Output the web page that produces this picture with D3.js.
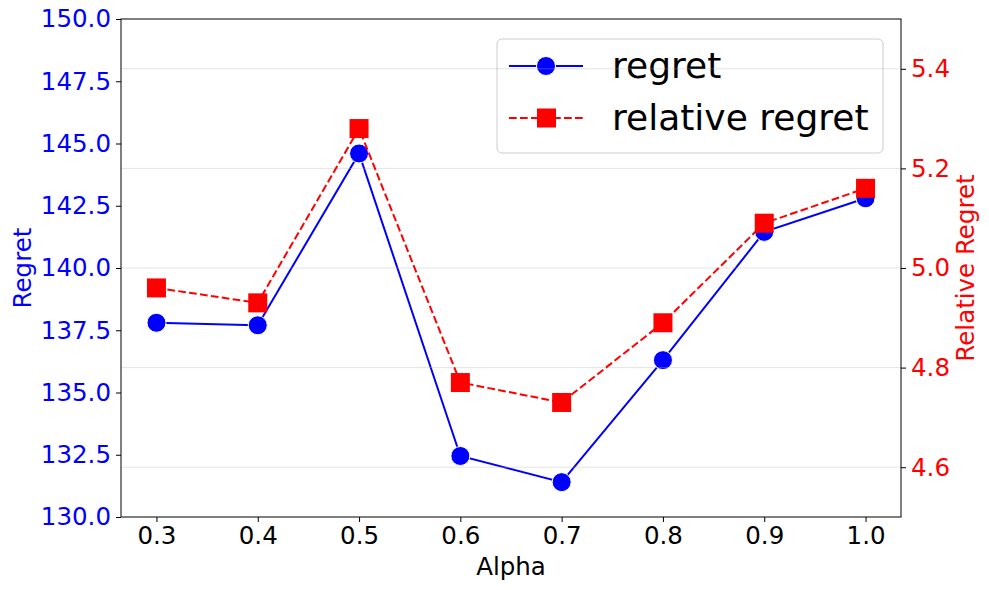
<!DOCTYPE html>
<html>
<head>
<meta charset="utf-8">
<script src="https://cdn.jsdelivr.net/npm/d3@7"></script>
<style>
  body { margin: 0; background: #fff; }
  text { font-family: "DejaVu Sans", sans-serif; }
</style>
</head>
<body>
<svg class="chart"></svg>
<script>
// data
const alphas = [0.3, 0.4, 0.5, 0.6, 0.7, 0.8, 0.9, 1.0];
const regret = [137.8, 137.7, 144.6, 132.45, 131.4, 136.3, 141.45, 142.8];
const relativeRegret = [4.96, 4.93, 5.28, 4.77, 4.73, 4.89, 5.09, 5.16];
const leftTicks = [130, 132.5, 135, 137.5, 140, 142.5, 145, 147.5, 150];
const rightTicks = [4.6, 4.8, 5.0, 5.2, 5.4];

const svgWidth = 989;
const svgHeight = 590;
const margin = { top: 19, right: 88, bottom: 73, left: 121 };
const chartWidth = svgWidth - margin.left - margin.right;
const chartHeight = svgHeight - margin.top - margin.bottom;
const labelSize = '24.5px';

const svg = d3.select('.chart')
  .attr('width', svgWidth)
  .attr('height', svgHeight);

const chart = svg.append('g')
  .attr('transform', 'translate(' + margin.left + ',' + margin.top + ')');

// scales
const xScale = d3.scaleLinear()
  .domain([0.265, 1.035])
  .range([0, chartWidth]);

const yLeft = d3.scaleLinear()
  .domain([130, 150])
  .range([chartHeight, 0]);

const yRight = d3.scaleLinear()
  .domain([4.5, 5.5])
  .range([chartHeight, 0]);

// axes
const xAxis = chart.append('g')
  .attr('transform', 'translate(0,' + chartHeight + ')')
  .call(d3.axisBottom(xScale).tickValues(alphas).tickFormat(d3.format('.1f')).tickSizeOuter(0).tickSize(5).tickPadding(5));

const leftAxis = chart.append('g')
  .call(d3.axisLeft(yLeft).tickValues(leftTicks).tickFormat(d3.format('.1f')).tickSizeOuter(0).tickSize(5).tickPadding(5));

const rightAxis = chart.append('g')
  .attr('transform', 'translate(' + chartWidth + ',0)')
  .call(d3.axisRight(yRight).tickValues(rightTicks).tickFormat(d3.format('.1f')).tickSizeOuter(0).tickSize(5).tickPadding(5));

[xAxis, leftAxis, rightAxis].forEach(a => {
  a.select('.domain').remove();
  a.attr('font-size', null).attr('font-family', null);
  a.selectAll('line').attr('stroke', 'black').attr('stroke-width', 1);
  a.selectAll('text').style('font-size', labelSize).style('font-family', '"DejaVu Sans", sans-serif');
});
xAxis.selectAll('text').attr('fill', 'black');
leftAxis.selectAll('text').attr('fill', 'blue');
rightAxis.selectAll('text').attr('fill', 'red');

// axis labels
chart.append('text')
  .attr('x', chartWidth / 2)
  .attr('y', chartHeight + 58)
  .attr('text-anchor', 'middle')
  .style('font-size', labelSize)
  .attr('fill', 'black')
  .text('Alpha');

chart.append('text')
  .attr('transform', 'rotate(-90)')
  .attr('x', -chartHeight / 2)
  .attr('y', -90)
  .attr('text-anchor', 'middle')
  .style('font-size', labelSize)
  .attr('fill', 'blue')
  .text('Regret');

chart.append('text')
  .attr('transform', 'rotate(-90)')
  .attr('x', -chartHeight / 2)
  .attr('y', chartWidth + 73)
  .attr('text-anchor', 'middle')
  .style('font-size', labelSize)
  .attr('fill', 'red')
  .text('Relative Regret');

// regret line (left axis)
const regretPts = alphas.map((a, i) => [a, regret[i]]);
chart.append('path')
  .datum(regretPts)
  .attr('fill', 'none')
  .attr('stroke', 'blue')
  .attr('stroke-width', 2)
  .attr('d', d3.line().x(d => xScale(d[0])).y(d => yLeft(d[1])));

chart.selectAll('.dot')
  .data(regretPts)
  .enter()
  .append('circle')
  .attr('class', 'dot')
  .attr('cx', d => xScale(d[0]))
  .attr('cy', d => yLeft(d[1]))
  .attr('r', 9.5)
  .attr('fill', 'blue')
  .attr('stroke', 'white')
  .attr('stroke-width', 1);

// legend (belongs to the left axes, so it sits under the right axes' marks)
const legend = chart.append('g')
  .attr('transform', 'translate(' + (497 - margin.left) + ',' + (39 - margin.top) + ')');

legend.append('rect')
  .attr('width', 386)
  .attr('height', 114)
  .attr('rx', 5)
  .attr('fill', 'white')
  .attr('fill-opacity', 0.8)
  .attr('stroke', '#cccccc')
  .attr('stroke-width', 1);

legend.append('line')
  .attr('x1', 12).attr('x2', 86).attr('y1', 27).attr('y2', 27)
  .attr('stroke', 'blue').attr('stroke-width', 2);
legend.append('circle')
  .attr('cx', 49).attr('cy', 27).attr('r', 9.5)
  .attr('fill', 'blue').attr('stroke', 'white').attr('stroke-width', 1);
legend.append('text')
  .attr('x', 115).attr('y', 39)
  .style('font-size', '36px').attr('fill', 'black')
  .text('regret');

legend.append('line')
  .attr('x1', 12).attr('x2', 86).attr('y1', 79).attr('y2', 79)
  .attr('stroke', 'red').attr('stroke-width', 2).attr('stroke-dasharray', '7.7,3.3');
legend.append('rect')
  .attr('x', 40).attr('y', 69.5).attr('width', 19).attr('height', 19)
  .attr('fill', 'red');
legend.append('text')
  .attr('x', 115).attr('y', 91)
  .style('font-size', '36px').attr('fill', 'black')
  .text('relative regret');

// grid from the right axis
chart.selectAll('.grid')
  .data(rightTicks)
  .enter()
  .append('line')
  .attr('class', 'grid')
  .attr('x1', 0)
  .attr('x2', chartWidth)
  .attr('y1', d => yRight(d))
  .attr('y2', d => yRight(d))
  .attr('stroke', '#b0b0b0')
  .attr('stroke-opacity', 0.35)
  .attr('stroke-width', 1);

// relative regret line (right axis)
const relPts = alphas.map((a, i) => [a, relativeRegret[i]]);
chart.append('path')
  .datum(relPts)
  .attr('fill', 'none')
  .attr('stroke', 'red')
  .attr('stroke-width', 2)
  .attr('stroke-dasharray', '7.7,3.3')
  .attr('d', d3.line().x(d => xScale(d[0])).y(d => yRight(d[1])));

chart.selectAll('.sq')
  .data(relPts)
  .enter()
  .append('rect')
  .attr('class', 'sq')
  .attr('x', d => xScale(d[0]) - 9.5)
  .attr('y', d => yRight(d[1]) - 9.5)
  .attr('width', 19)
  .attr('height', 19)
  .attr('fill', 'red');

// frame
chart.append('rect')
  .attr('width', chartWidth)
  .attr('height', chartHeight)
  .attr('fill', 'none')
  .attr('stroke', 'black')
  .attr('stroke-width', 1);
</script>
</body>
</html>
